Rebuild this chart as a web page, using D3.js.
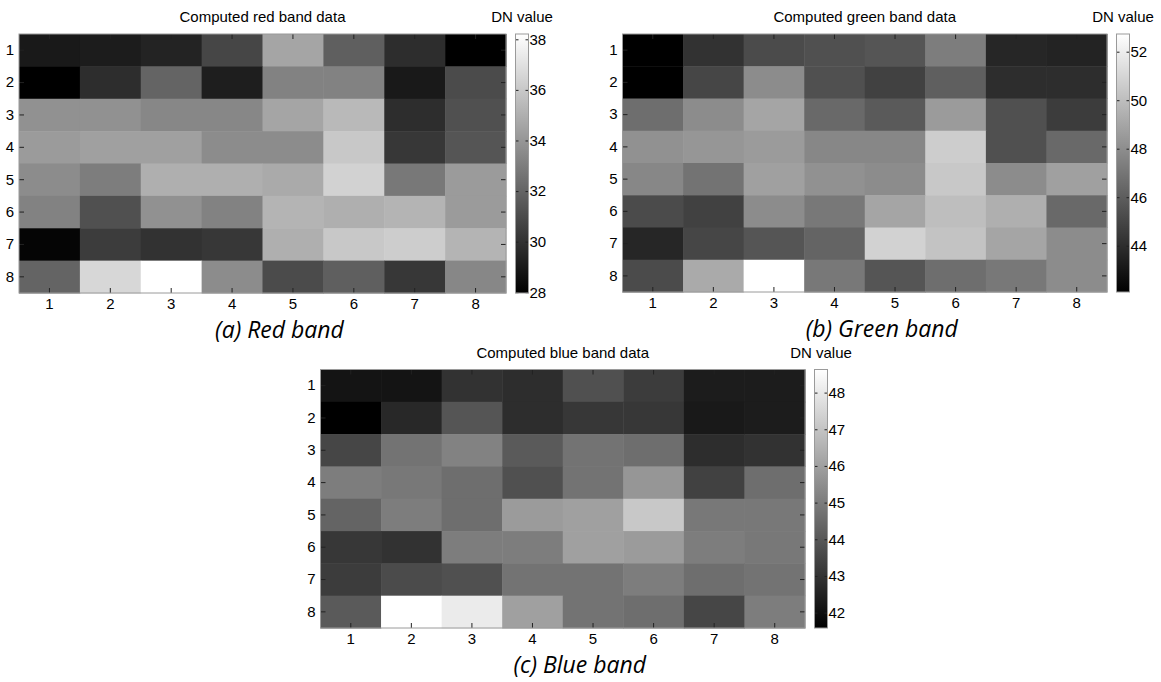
<!DOCTYPE html>
<html>
<head>
<meta charset="utf-8">
<script src="https://cdn.jsdelivr.net/npm/d3@7"></script>
<style>
  body { margin: 0; background: #fff; }
  svg { display: block; }
</style>
</head>
<body>
<script>
const W = 1161;
const H = 682;

const columns = [1, 2, 3, 4, 5, 6, 7, 8];
const rows = [1, 2, 3, 4, 5, 6, 7, 8];

// DN values, one array per row (row 1 at top)
const redValues = [
  [28.97, 29.09, 29.38, 30.78, 34.60, 31.78, 29.78, 27.97],
  [27.97, 29.78, 31.99, 29.17, 33.19, 33.19, 28.97, 30.98],
  [33.79, 33.79, 33.39, 33.39, 34.60, 35.40, 29.78, 31.18],
  [34.19, 34.40, 34.40, 33.59, 33.59, 36.00, 30.18, 31.38],
  [33.59, 32.99, 35.00, 35.00, 34.80, 36.40, 32.79, 34.19],
  [33.19, 31.18, 33.79, 33.19, 35.20, 35.00, 35.20, 34.19],
  [28.17, 30.38, 29.98, 30.18, 35.00, 36.00, 36.20, 35.20],
  [31.99, 36.60, 38.21, 33.59, 30.98, 31.78, 30.18, 33.39]
];
const greenValues = [
  [42.09, 44.18, 45.22, 45.43, 45.64, 47.31, 43.68, 43.55],
  [42.09, 45.01, 47.93, 45.43, 44.80, 46.05, 43.97, 43.97],
  [46.68, 47.93, 48.98, 46.47, 45.85, 48.56, 45.43, 44.59],
  [48.14, 48.35, 48.56, 47.72, 47.72, 50.64, 45.43, 46.47],
  [47.72, 46.89, 48.77, 48.14, 47.93, 50.44, 47.93, 48.77],
  [45.22, 44.80, 47.93, 47.10, 48.98, 50.02, 49.39, 46.47],
  [43.68, 45.01, 45.64, 46.26, 50.85, 50.23, 48.98, 47.93],
  [45.22, 49.18, 52.73, 47.10, 45.64, 46.68, 47.10, 47.93]
];
const blueValues = [
  [42.13, 42.13, 42.96, 42.82, 43.79, 43.24, 42.35, 42.35],
  [41.58, 42.69, 43.93, 42.82, 43.10, 43.10, 42.27, 42.35],
  [43.52, 44.76, 45.17, 44.07, 44.76, 44.62, 42.82, 42.96],
  [45.04, 44.90, 44.62, 43.79, 44.76, 45.73, 43.38, 44.62],
  [44.35, 45.04, 44.62, 45.87, 46.00, 47.11, 44.90, 44.90],
  [43.10, 42.96, 45.04, 45.04, 46.00, 45.87, 45.04, 44.90],
  [43.24, 43.65, 43.79, 44.76, 44.76, 45.04, 44.62, 44.76],
  [44.07, 48.63, 48.08, 46.00, 44.76, 44.62, 43.52, 45.04]
];

const redTicks = [28, 30, 32, 34, 36, 38];
const greenTicks = [44, 46, 48, 50, 52];
const blueTicks = [42, 43, 44, 45, 46, 47, 48];

const titles = ['Computed red band data', 'Computed green band data', 'Computed blue band data'];
const captions = ['(a) Red band', '(b) Green band', '(c) Blue band'];
const colorbarLabel = 'DN value';

const FONT = '"Liberation Sans", Arial, sans-serif';
const CAPTION_FONT = '"Open Sans", "Noto Sans", sans-serif';
const TICK_COLOR = '#222';
const BORDER_COLOR = '#9a9a9a';

const panels = [
  { values: redValues, ticks: redTicks, title: titles[0], caption: captions[0], left: 19, top: 34, width: 487, height: 259 },
  { values: greenValues, ticks: greenTicks, title: titles[1], caption: captions[1], left: 622.5, top: 34, width: 484.5, height: 258 },
  { values: blueValues, ticks: blueTicks, title: titles[2], caption: captions[2], left: 320.5, top: 369.5, width: 484.5, height: 258.5 }
];

const svg = d3.select('body')
  .append('svg')
  .attr('width', W)
  .attr('height', H);

const defs = svg.append('defs');
const grad = defs.append('linearGradient')
  .attr('id', 'graybar')
  .attr('x1', 0).attr('y1', 1)
  .attr('x2', 0).attr('y2', 0);
grad.append('stop').attr('offset', '0%').attr('stop-color', '#000');
grad.append('stop').attr('offset', '100%').attr('stop-color', '#fff');

panels.forEach(drawPanel);

function styleAxis(a) {
  a.select('.domain').remove();
  a.selectAll('.tick line').attr('stroke', TICK_COLOR);
  a.selectAll('.tick text')
    .attr('font-family', FONT)
    .attr('font-size', 15)
    .attr('fill', '#000');
}

function drawPanel(p) {
  const g = svg.append('g').attr('transform', `translate(${p.left},${p.top})`);

  const x = d3.scaleBand().domain(columns).range([0, p.width]);
  const y = d3.scaleBand().domain(rows).range([0, p.height]);

  const cells = [];
  p.values.forEach((row, i) => row.forEach((v, j) => cells.push({ r: rows[i], c: columns[j], v })));

  const extent = d3.extent(cells, d => d.v);
  const color = d3.scaleLinear().domain(extent).range(['#000', '#fff']);

  g.append('g')
    .selectAll('rect')
    .data(cells)
    .join('rect')
    .attr('x', d => x(d.c))
    .attr('y', d => y(d.r))
    .attr('width', x.bandwidth() + 0.5)
    .attr('height', y.bandwidth() + 0.5)
    .attr('fill', d => color(d.v));

  // axes with inside ticks on all four sides
  g.append('g')
    .attr('transform', `translate(0,${p.height})`)
    .call(d3.axisBottom(x).tickSize(-5).tickPadding(5))
    .call(styleAxis);
  g.append('g')
    .call(d3.axisLeft(y).tickSize(-5).tickPadding(5))
    .call(styleAxis);
  g.append('g')
    .call(d3.axisTop(x).tickSize(-5).tickFormat(''))
    .call(styleAxis);
  g.append('g')
    .attr('transform', `translate(${p.width},0)`)
    .call(d3.axisRight(y).tickSize(-5).tickFormat(''))
    .call(styleAxis);

  g.append('rect')
    .attr('width', p.width)
    .attr('height', p.height)
    .attr('fill', 'none')
    .attr('stroke', BORDER_COLOR);

  g.append('text')
    .attr('x', p.width / 2)
    .attr('y', -12)
    .attr('text-anchor', 'middle')
    .attr('font-family', FONT)
    .attr('font-size', 15)
    .text(p.title);

  // colorbar
  const cbX = p.width + 9.5;
  const cbW = 13;
  const cb = g.append('g').attr('transform', `translate(${cbX},0)`);
  const cy = d3.scaleLinear().domain(extent).range([p.height, 0]);

  cb.append('rect')
    .attr('width', cbW)
    .attr('height', p.height)
    .attr('fill', 'url(#graybar)');

  cb.append('g')
    .attr('transform', `translate(${cbW},0)`)
    .call(d3.axisRight(cy).tickValues(p.ticks).tickFormat(d3.format('d')).tickSize(-3).tickPadding(1))
    .call(styleAxis);
  cb.append('g')
    .call(d3.axisLeft(cy).tickValues(p.ticks).tickSize(-3).tickFormat(''))
    .call(styleAxis);

  cb.append('rect')
    .attr('width', cbW)
    .attr('height', p.height)
    .attr('fill', 'none')
    .attr('stroke', BORDER_COLOR);

  cb.append('text')
    .attr('x', cbW / 2)
    .attr('y', -12)
    .attr('text-anchor', 'middle')
    .attr('font-family', FONT)
    .attr('font-size', 15)
    .text(colorbarLabel);

  g.append('text')
    .attr('x', p.width / 2 + 17)
    .attr('y', p.height + 45)
    .attr('text-anchor', 'middle')
    .attr('font-family', CAPTION_FONT)
    .attr('font-style', 'italic')
    .attr('font-size', 23)
    .text(p.caption);
}
</script>
</body>
</html>
